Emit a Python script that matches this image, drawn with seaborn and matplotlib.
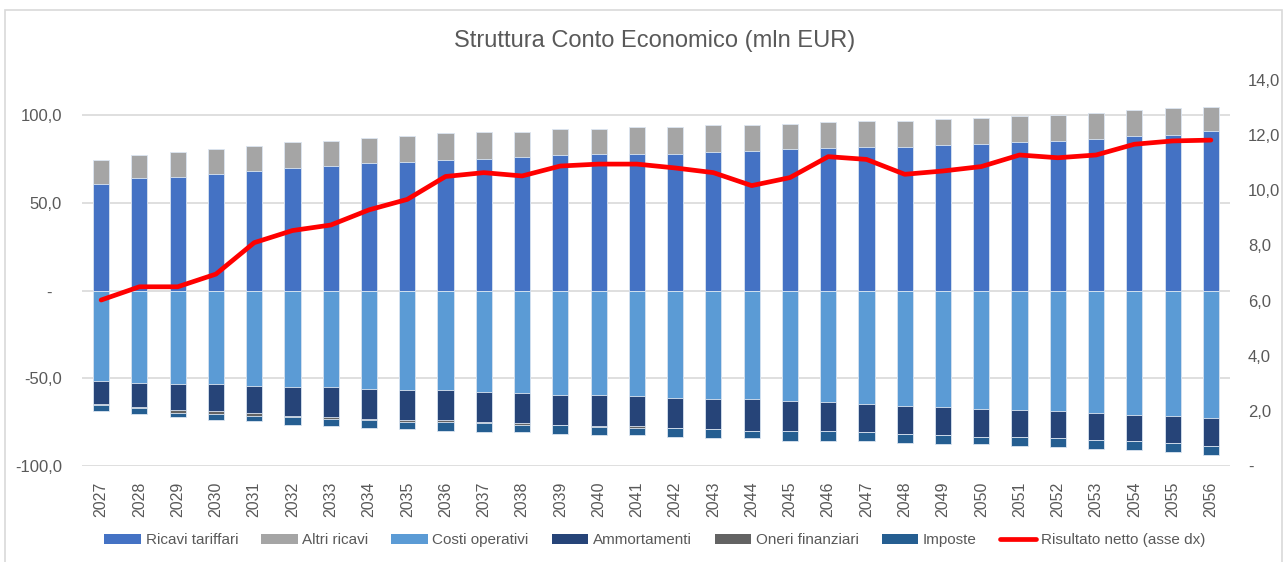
import numpy as np
import pandas as pd
import matplotlib.pyplot as plt
import seaborn as sns
from matplotlib.patches import Patch, Rectangle
from matplotlib.lines import Line2D

# Values (mln EUR)
years = [str(y) for y in range(2027, 2057)]

ricavi_tariffari = [61.0, 64.0, 64.6, 66.3, 68.2, 69.9, 70.9, 72.6, 73.5, 74.3,
                    75.1, 76.0, 77.0, 77.7, 77.7, 77.7, 78.7, 79.4, 80.4, 81.1,
                    82.0, 81.9, 82.8, 83.8, 84.6, 85.5, 86.3, 88.0, 88.9, 90.8]
altri_ricavi = [13.3, 13.0, 14.1, 14.1, 13.9, 14.9, 14.6, 14.6, 14.5, 15.6,
                15.5, 14.6, 15.3, 14.6, 15.6, 15.6, 15.6, 14.9, 14.8, 14.9,
                14.7, 14.8, 14.7, 14.7, 14.8, 14.8, 14.8, 14.8, 14.9, 13.7]
costi_operativi = [-51.7, -52.5, -53.4, -53.4, -54.2, -55.1, -55.1, -55.9, -56.8, -56.8,
                   -57.6, -58.5, -59.3, -59.3, -60.2, -61.0, -62.0, -62.0, -62.7, -63.5,
                   -64.4, -65.6, -66.3, -67.3, -68.0, -68.8, -69.7, -70.7, -71.5, -72.4]
ammortamenti = [-12.7, -13.6, -14.4, -15.2, -15.4, -16.2, -16.9, -17.1, -16.9, -16.9,
                -17.1, -16.9, -17.3, -18.1, -17.0, -17.3, -16.8, -17.8, -17.1, -16.3,
                -16.2, -16.1, -16.0, -16.1, -15.4, -15.2, -15.4, -15.0, -15.3, -16.1]
oneri_finanziari = [-1.0, -1.0, -1.8, -1.7, -1.9, -0.9, -1.2, -0.7, -1.0, -1.0,
                    -0.9, -1.2, -0.1, -0.1, -1.1, -0.1, 0.0, 0.0, 0.0, 0.0,
                    0.0, 0.0, 0.0, 0.0, 0.0, 0.0, 0.0, 0.0, 0.0, 0.0]
imposte = [-3.0, -3.0, -2.4, -3.4, -3.0, -4.2, -3.9, -4.4, -4.1, -5.1,
           -5.0, -4.0, -4.8, -4.8, -4.0, -4.8, -5.2, -4.2, -5.7, -5.7,
           -5.3, -5.1, -5.3, -4.2, -5.1, -5.3, -5.2, -5.3, -5.1, -5.1]
risultato_netto = [6.02, 6.50, 6.50, 6.96, 8.10, 8.54, 8.74, 9.29, 9.67, 10.50,
                   10.64, 10.52, 10.88, 10.95, 10.95, 10.81, 10.64, 10.17, 10.46, 11.22,
                   11.12, 10.58, 10.70, 10.86, 11.28, 11.18, 11.28, 11.67, 11.79, 11.82]

labels = ['Ricavi tariffari', 'Altri ricavi', 'Costi operativi', 'Ammortamenti',
          'Oneri finanziari', 'Imposte', 'Risultato netto (asse dx)']
colors = ['#4472C4', '#A5A5A5', '#5B9BD5', '#264478', '#636363', '#255E91', '#FF0000']

sns.set_theme(style='white')
plt.rcParams['font.family'] = ['Liberation Sans Narrow', 'Liberation Sans', 'DejaVu Sans']
text_color = '#595959'

df = pd.DataFrame({'anno': years,
                   'ricavi': ricavi_tariffari, 'altri': altri_ricavi,
                   'costi': costi_operativi, 'amm': ammortamenti,
                   'oneri': oneri_finanziari, 'imposte': imposte,
                   'netto': risultato_netto})
# cumulative heights for stacking (bars are drawn from the outside in)
df['pos_tot'] = df['ricavi'] + df['altri']
df['neg_amm'] = df['costi'] + df['amm']
df['neg_oneri'] = df['neg_amm'] + df['oneri']
df['neg_tot'] = df['neg_oneri'] + df['imposte']

fig = plt.figure(figsize=(12.84, 5.62), dpi=100)
ax = fig.add_axes([82 / 1284, 1 - 466 / 562, (1230 - 82) / 1284, (466 - 80) / 562])

layers = [('pos_tot', colors[1]), ('ricavi', colors[0]),
          ('neg_tot', colors[5]), ('neg_oneri', colors[4]),
          ('neg_amm', colors[3]), ('costi', colors[2])]
for col, c in layers:
    sns.barplot(data=df, x='anno', y=col, color=c, saturation=1, width=0.42,
                edgecolor='#DCE6F2', linewidth=0.6, ax=ax, zorder=3)

ax.set_ylim(-100, 120)
ax.set_yticks([-100, -50, 0, 50, 100])
ax.set_yticklabels(['-100,0', '-50,0', '-  ', '50,0', '100,0'])
ax.set_xlim(-0.5, len(years) - 0.5)
ax.grid(axis='y', color='#D9D9D9', linewidth=1.2, zorder=0)
ax.set_axisbelow(True)
ax.set_xlabel('')
ax.set_ylabel('')
ax.tick_params(axis='x', rotation=90, labelsize=11.5, colors=text_color, pad=11, length=0)
ax.tick_params(axis='y', labelsize=12, colors=text_color, pad=14.5, length=0)
for s in ax.spines.values():
    s.set_visible(False)

ax2 = ax.twinx()
sns.lineplot(x=np.arange(len(years)), y=risultato_netto, color=colors[6],
             linewidth=3.4, ax=ax2, solid_capstyle='round', solid_joinstyle='round')
ax2.set_ylim(0, 14)
ax2.set_yticks(np.arange(0, 15, 2))
ax2.set_yticklabels(['-'] + [f'{v},0' for v in range(2, 15, 2)])
ax2.tick_params(axis='y', labelsize=12, colors=text_color, pad=13, length=0)
ax2.grid(False)
for s in ax2.spines.values():
    s.set_visible(False)

fig.text(0.51, 1 - 41 / 562, 'Struttura Conto Economico (mln EUR)',
         ha='center', va='center', fontsize=17, color=text_color)

handles = [Patch(facecolor=c, edgecolor='none') for c in colors[:6]]
handles.append(Line2D([0], [0], color=colors[6], linewidth=3.4))
fig.legend(handles, labels, loc='center', bbox_to_anchor=(0.51, 1 - 540 / 562),
           ncol=7, frameon=False, fontsize=11, handlelength=2.4, handleheight=0.65,
           handletextpad=0.3, columnspacing=1.5, labelcolor=text_color)

fig.patches.append(Rectangle((5 / 1284, -0.01), 1 - 7 / 1284, 1 - 10 / 562 + 0.01,
                             transform=fig.transFigure, fill=False,
                             edgecolor='#D9D9D9', linewidth=1.2))

fig.savefig('out.png', dpi=100)
